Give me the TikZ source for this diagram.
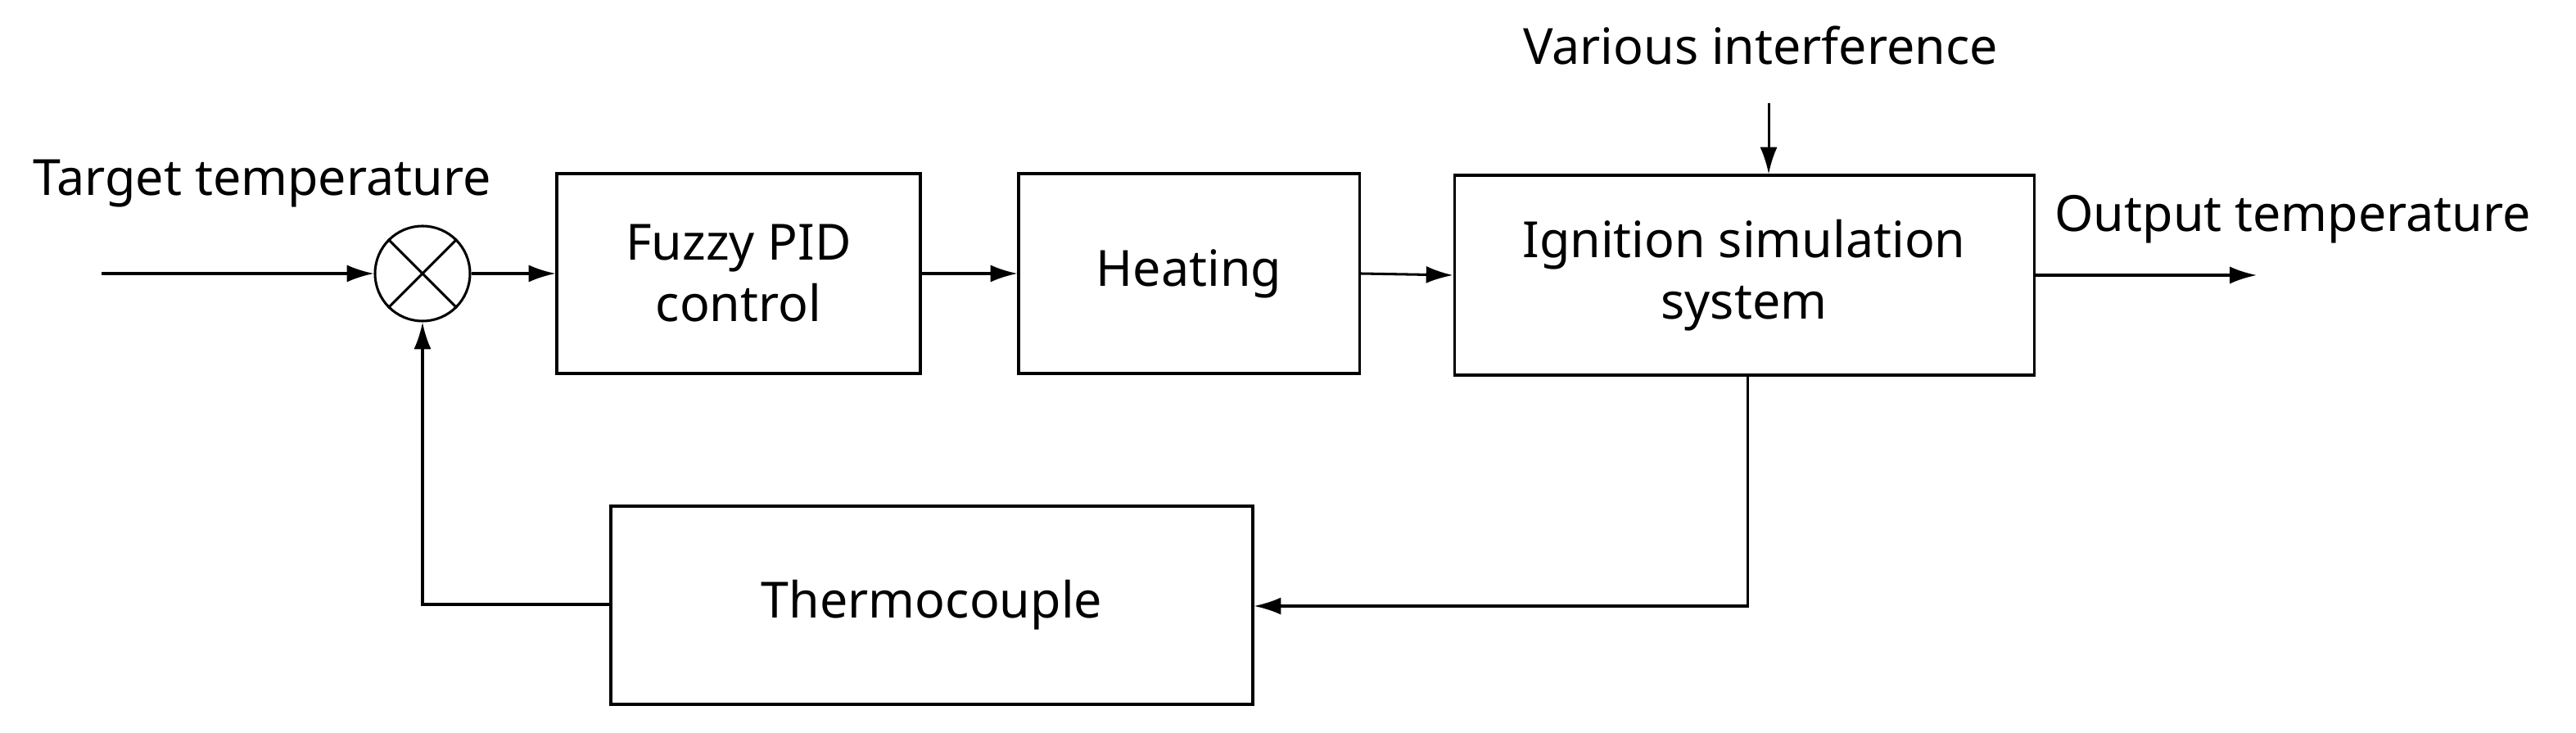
\documentclass[tikz,border=0pt]{standalone}
\usepackage{fontspec}
\setmainfont{Noto Sans}
\usetikzlibrary{arrows.meta}
\begin{document}
\begin{tikzpicture}[x=0.03cm,y=-0.03cm,
  blk/.style={draw,line width=1.3pt,inner sep=0pt,align=center,font=\fontsize{26}{32}\selectfont},
  lbl/.style={font=\fontsize{26}{32}\selectfont,inner sep=0pt},
  arr/.style={line width=1.3pt,-{Latex[length=14pt,width=9pt]}},
  ln/.style={line width=1.3pt}]
\useasboundingbox (0,0) rectangle (1573,447.5);
\node[blk,minimum width=222*0.03cm,minimum height=122*0.03cm] (fz) at (451,167) {Fuzzy PID\\control};
\node[blk,minimum width=208*0.03cm,minimum height=122*0.03cm] (ht) at (726,167) {Heating};
\node[blk,minimum width=354*0.03cm,minimum height=122*0.03cm] (ig) at (1065,168) {Ignition simulation\\system};
\node[blk,minimum width=392*0.03cm,minimum height=121*0.03cm] (th) at (569,369.5) {Thermocouple};
\node[draw,circle,line width=1.3pt,minimum size=58*0.03cm,inner sep=0pt] (sum) at (258,167) {};
\draw[ln] (sum.north west) -- (sum.south east) (sum.north east) -- (sum.south west);
\node[lbl] (tt) at (160,112) {Target temperature};
\node[lbl] (ot) at (1400,134) {Output temperature};
\node[lbl] (vi) at (1075,28) {Various interference};
\coordinate (in) at (62,167);
\coordinate (out) at (1378,168);
\coordinate (vtop) at (1080,63);
\draw[arr] (in) -- (sum.west);
\draw[arr] (sum.east) -- (fz.west);
\draw[arr] (fz.east) -- (ht.west);
\draw[arr] (ht.east) -- (ig.west);
\draw[arr] (ig.east |- out) -- (out);
\draw[arr] (vtop) -- (vtop |- ig.north);
\draw[arr] (1067,229) -- (1067,370) -- (th.east |- 0,370);
\draw[arr] (th.west |- 0,369) -- (258,369) -- (sum.south);
\end{tikzpicture}
\end{document}
